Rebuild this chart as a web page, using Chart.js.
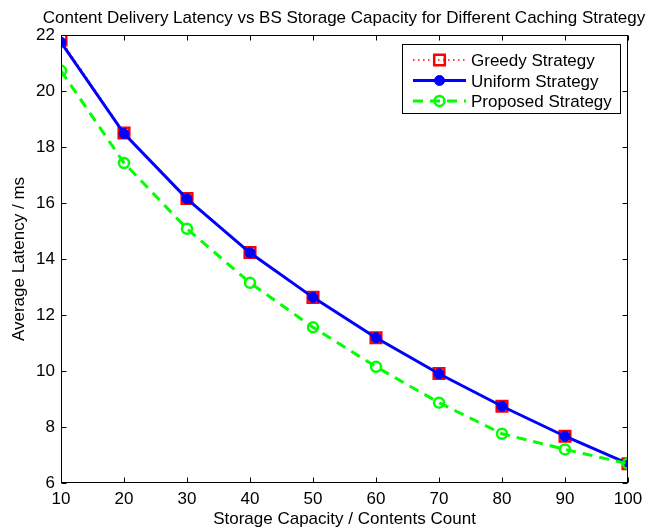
<!DOCTYPE html>
<html>
<head>
<meta charset="utf-8">
<script src="https://cdn.jsdelivr.net/npm/chart.js@4.4.1/dist/chart.umd.min.js"></script>
<style>
  html, body { margin: 0; padding: 0; background: #fff; }
  #wrap { width: 654px; height: 531px; }
</style>
</head>
<body>
<div id="wrap"><canvas id="myChart" width="654" height="531"></canvas></div>
<script>
const capacity = [10, 20, 30, 40, 50, 60, 70, 80, 90, 100];
const greedy = [21.82, 18.5, 16.16, 14.23, 12.63, 11.19, 9.91, 8.74, 7.67, 6.69];
const uniform = [21.74, 18.48, 16.15, 14.22, 12.63, 11.19, 9.9, 8.74, 7.67, 6.69];
const proposed = [20.72, 17.43, 15.08, 13.15, 11.56, 10.15, 8.87, 7.76, 7.2, 6.69];
const xTicks = [10, 20, 30, 40, 50, 60, 70, 80, 90, 100];
const yTicks = [6, 8, 10, 12, 14, 16, 18, 20, 22];

const titleText = 'Content Delivery Latency vs BS Storage Capacity for Different Caching Strategy';
const font = 'Liberation Sans, Arial, sans-serif';
const fontSize = 17;

function toPoints(vals) {
    return vals.map((v, i) => ({ x: capacity[i], y: v }));
}

// matlab style box with ticks pointing inward on all four sides
const boxPlugin = {
    id: 'box',
    afterDraw(chart) {
        const ctx = chart.ctx;
        const a = chart.chartArea;
        const xs = chart.scales.x;
        const ys = chart.scales.y;
        ctx.save();
        ctx.strokeStyle = '#000';
        ctx.lineWidth = 1;
        const L = Math.round(a.left) + 0.5, R = Math.round(a.right) - 0.5;
        const T = Math.round(a.top) + 0.5, B = Math.round(a.bottom) - 0.5;
        ctx.strokeRect(L, T, R - L, B - T);
        ctx.beginPath();
        const tl = 5;
        for (const t of xTicks) {
            const px = Math.round(xs.getPixelForValue(t)) + 0.5;
            ctx.moveTo(px, B); ctx.lineTo(px, B - tl);
            ctx.moveTo(px, T); ctx.lineTo(px, T + tl);
        }
        for (const t of yTicks) {
            const py = Math.round(ys.getPixelForValue(t)) + 0.5;
            ctx.moveTo(L, py); ctx.lineTo(L + tl, py);
            ctx.moveTo(R, py); ctx.lineTo(R - tl, py);
        }
        ctx.stroke();

        // title
        ctx.fillStyle = '#000';
        ctx.font = fontSize + 'px ' + font;
        ctx.textAlign = 'center';
        ctx.textBaseline = 'alphabetic';
        ctx.fillText(titleText, 344, 23);

        // legend
        const lx = 402.5, ly = 44.5, lw = 218, lh = 69;
        ctx.fillStyle = '#fff';
        ctx.fillRect(lx, ly, lw, lh);
        ctx.strokeRect(lx, ly, lw, lh);
        const rows = [60, 80.5, 101];
        chart.data.datasets.forEach((ds, i) => {
            const y = rows[i];
            ctx.save();
            ctx.strokeStyle = ds.borderColor;
            ctx.lineWidth = ds.borderWidth;
            ctx.setLineDash(ds.borderDash || []);
            ctx.beginPath();
            ctx.moveTo(413, y); ctx.lineTo(466, y);
            ctx.stroke();
            ctx.restore();
            ctx.save();
            ctx.fillStyle = ds.pointBackgroundColor;
            ctx.strokeStyle = ds.pointBorderColor;
            ctx.lineWidth = ds.pointBorderWidth;
            Chart.helpers.drawPoint(ctx, {
                pointStyle: ds.pointStyle, radius: ds.pointRadius, rotation: 0,
                borderWidth: ds.pointBorderWidth
            }, 439.5, y);
            ctx.restore();
            ctx.fillStyle = '#000';
            ctx.font = fontSize + 'px ' + font;
            ctx.textAlign = 'left';
            ctx.textBaseline = 'alphabetic';
            ctx.fillText(ds.label, 471, y + 6);
        });
        ctx.restore();
    }
};

new Chart(document.getElementById('myChart').getContext('2d'), {
    type: 'line',
    data: {
        datasets: [
            {
                label: 'Greedy Strategy',
                data: toPoints(greedy),
                borderColor: '#ff0000',
                borderWidth: 1.5,
                borderDash: [1.5, 3.5],
                pointStyle: 'rect',
                pointRadius: 7.5,
                pointBackgroundColor: 'rgba(0,0,0,0)',
                pointBorderColor: '#ff0000',
                pointBorderWidth: 2.5,
                order: 3
            },
            {
                label: 'Uniform Strategy',
                data: toPoints(uniform),
                borderColor: '#0000ff',
                borderWidth: 3,
                pointStyle: 'circle',
                pointRadius: 5,
                pointBackgroundColor: '#0000ff',
                pointBorderColor: '#0000ff',
                pointBorderWidth: 1,
                order: 2
            },
            {
                label: 'Proposed Strategy',
                data: toPoints(proposed),
                borderColor: '#00ff00',
                borderWidth: 3,
                borderDash: [10, 7],
                pointStyle: 'circle',
                pointRadius: 5,
                pointBackgroundColor: 'rgba(0,0,0,0)',
                pointBorderColor: '#00ff00',
                pointBorderWidth: 2.5,
                order: 1
            }
        ]
    },
    options: {
        responsive: false,
        animation: false,
        layout: { padding: { left: 0, right: 26, top: 35, bottom: 0 } },
        plugins: {
            legend: { display: false },
            tooltip: { enabled: false }
        },
        elements: { line: { tension: 0 } },
        scales: {
            x: {
                type: 'linear',
                min: 10,
                max: 100,
                afterBuildTicks: s => { s.ticks = xTicks.map(v => ({ value: v })); },
                afterFit: s => { s.height = 48; },
                grid: { display: false, drawTicks: false },
                border: { display: false },
                ticks: { color: '#000', font: { family: font, size: fontSize }, padding: 6 },
                title: {
                    display: true,
                    text: 'Storage Capacity / Contents Count',
                    color: '#000',
                    font: { family: font, size: fontSize },
                    padding: { top: 1, bottom: 1 }
                }
            },
            y: {
                type: 'linear',
                min: 6,
                max: 22,
                afterBuildTicks: s => { s.ticks = yTicks.map(v => ({ value: v })); },
                afterFit: s => { s.width = 61; },
                grid: { display: false, drawTicks: false },
                border: { display: false },
                ticks: { color: '#000', font: { family: font, size: fontSize }, padding: 6 },
                title: {
                    display: true,
                    text: 'Average Latency / ms',
                    color: '#000',
                    font: { family: font, size: fontSize },
                    padding: { top: 9, bottom: 1 }
                }
            }
        }
    },
    plugins: [boxPlugin]
});
</script>
</body>
</html>
